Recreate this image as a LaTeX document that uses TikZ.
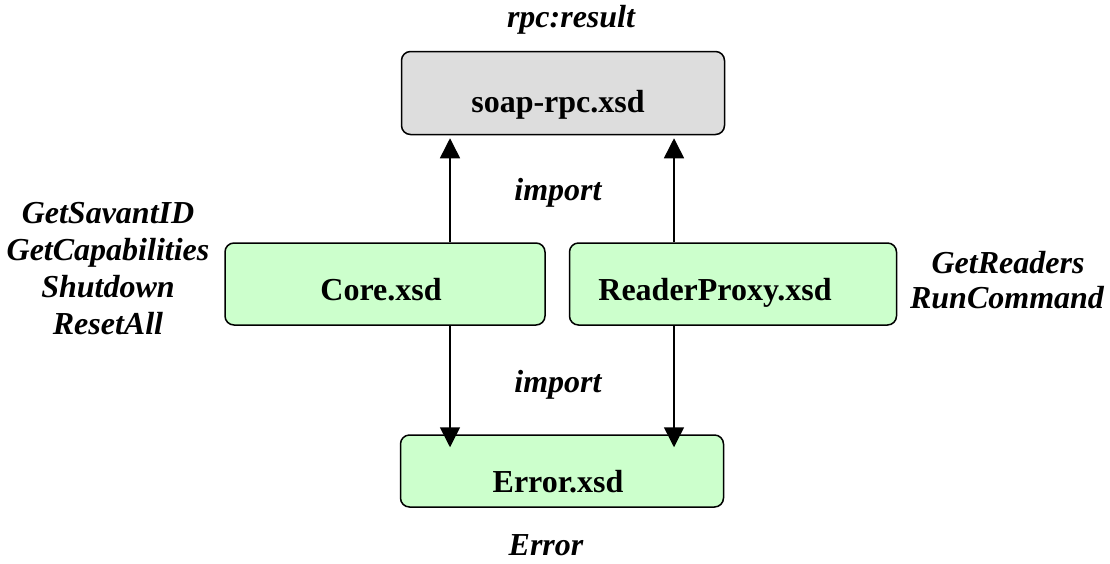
\documentclass[tikz,border=0pt]{standalone}
\usepackage{fontspec}
\setmainfont{Liberation Serif}
\usetikzlibrary{arrows.meta,calc}
\definecolor{boxgray}{HTML}{DDDDDD}
\definecolor{boxgreen}{HTML}{CCFFCC}
\tikzset{
  filebox/.style={draw=black, line width=1.5pt, rounded corners=9pt, inner sep=0pt},
  filename/.style={font=\fontsize{32}{36}\selectfont\bfseries, inner sep=0pt, anchor=base},
  note/.style={font=\fontsize{32}{36}\selectfont\bfseries\itshape, inner sep=0pt, anchor=base},
  importarrow/.style={line width=1.5pt, -{Triangle[width=20pt,length=20pt]}}
}
\begin{document}
\begin{tikzpicture}[x=1pt,y=-1pt]
  \useasboundingbox (0,0) rectangle (1110,563);

  % schema files
  \node[filebox, fill=boxgray, minimum width=323pt, minimum height=83pt] (rpc) at (563,93) {};
  \node[filebox, fill=boxgreen, minimum width=320pt, minimum height=82pt] (core) at (385,284) {};
  \node[filebox, fill=boxgreen, minimum width=327pt, minimum height=82pt] (proxy) at (733,284) {};
  \node[filebox, fill=boxgreen, minimum width=323pt, minimum height=72pt] (err) at (562,471) {};

  \node[filename] (rpctxt) at (558,112) {soap-rpc.xsd};
  \node[filename] (coretxt) at (381,300) {Core.xsd};
  \node[filename] (proxytxt) at (715,300) {ReaderProxy.xsd};
  \node[filename] (errtxt) at (558,492) {Error.xsd};

  % import connectors
  \coordinate (lx) at (450,0);
  \coordinate (rx) at (674,0);
  \draw[importarrow] (core.north -| lx) -- ($(rpc.south -| lx)+(0,3)$);
  \draw[importarrow] (proxy.north -| rx) -- ($(rpc.south -| rx)+(0,3)$);
  \draw[importarrow] (core.south -| lx) -- ($(err.north -| lx)+(0,13)$);
  \draw[importarrow] (proxy.south -| rx) -- ($(err.north -| rx)+(0,13)$);

  % element names and imports
  \node[note] (result) at (571,27) {rpc:result};
  \node[note] (imp1) at (558,200) {import};
  \node[note] (imp2) at (558,392) {import};
  \node[note] (errel) at (546,555) {Error};

  % operations of Core.xsd
  \node[note] (op1) at (108,223) {GetSavantID};
  \node[note] (op2) at (108,260) {GetCapabilities};
  \node[note] (op3) at (108,297) {Shutdown};
  \node[note] (op4) at (108,334) {ResetAll};

  % operations of ReaderProxy.xsd
  \node[note] (op5) at (1008,273) {GetReaders};
  \node[note] (op6) at (1007,308) {RunCommand};
\end{tikzpicture}
\end{document}
